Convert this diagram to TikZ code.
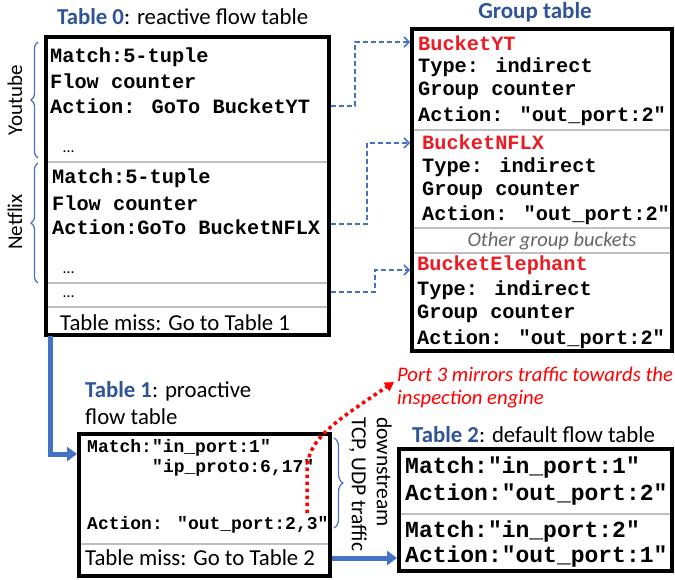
\documentclass[tikz,border=0pt]{standalone}
\usepackage{fontspec}
\setmainfont{Carlito}
\newfontfamily\cour{Liberation Mono}
\usetikzlibrary{arrows.meta,decorations.pathreplacing}
\definecolor{tblue}{RGB}{47,85,151}
\definecolor{ablue}{RGB}{68,114,196}
\definecolor{bred}{RGB}{237,28,36}
\definecolor{sepgray}{RGB}{191,191,191}
\begin{document}
\begin{tikzpicture}[x=1pt,y=1pt,
  tbox/.style={draw=black,line width=4pt,inner sep=0pt,anchor=north west,fill=white},
  sepline/.style={draw=sepgray,line width=1.5pt},
  monoA/.style={font=\cour\bfseries\fontsize{20.3}{24}\selectfont,inner sep=0pt,anchor=west},
  monoB/.style={font=\cour\bfseries\fontsize{18}{21}\selectfont,inner sep=0pt,anchor=west},
  monoC/.style={font=\cour\bfseries\fontsize{23}{27}\selectfont,inner sep=0pt,anchor=west},
  plain/.style={font=\fontsize{22.8}{27}\selectfont,inner sep=0pt,anchor=west},
  dots/.style={font=\fontsize{16}{18}\selectfont,inner sep=0pt,anchor=west},
  bname/.style={monoA,text=bred},
  dasharrow/.style={draw=ablue,line width=1.5pt,dash pattern=on 5pt off 3pt,-{Straight Barb[length=5pt,width=10pt]}},
  bigarrow/.style={draw=ablue,line width=5pt,-{Triangle[length=10pt,width=14pt]}},
  bracebl/.style={draw=ablue,line width=1.2pt,decorate,decoration={brace,amplitude=7pt}},
  reddot/.style={draw=red,line width=3.5pt,dash pattern=on 3.5pt off 3.5pt,-{Triangle[length=9pt,width=10pt]}}
]
\useasboundingbox (0,0) rectangle (675,-580);

% ---------- Table 0 ----------
\node[plain] (t0title) at (57,-17) {\textcolor{tblue}{\bfseries Table 0}: reactive flow table};
\node[tbox,minimum width=283pt,minimum height=298pt] (t0) at (44,-35) {};
\draw[sepline] (48,-162) -- (327,-162);
\draw[sepline] (48,-283) -- (327,-283);
\draw[sepline] (48,-307) -- (327,-307);
\node[monoA] (yt1) at (50,-57) {Match:5-tuple};
\node[monoA] (yt2) at (50,-81) {Flow counter};
\node[monoA] (yt3) at (50,-106) {Action: GoTo BucketYT};
\node[dots] (ytd) at (63,-152) {…};
\node[monoA] (nf1) at (52,-178) {Match:5-tuple};
\node[monoA] (nf2) at (52,-203) {Flow counter};
\node[monoA] (nf3) at (52,-227) {Action:GoTo BucketNFLX};
\node[dots] (nfd) at (63,-273) {…};
\node[dots] (od) at (63,-297) {…};
\node[plain] (miss0) at (60,-323) {Table miss: Go to Table 1};

% braces
\coordinate (ytb) at (38,-158); \coordinate (ytt) at (38,-42);
\coordinate (nfb) at (38,-283); \coordinate (nft) at (38,-163);
\draw[bracebl] (ytb) -- (ytt);
\draw[bracebl] (nfb) -- (nft);
\node[rotate=90,font=\fontsize{21}{24}\selectfont,inner sep=0pt] (ytl) at (15,-100) {Youtube};
\node[rotate=90,font=\fontsize{21}{24}\selectfont,inner sep=0pt] (nfl) at (15,-222) {Netflix};

% ---------- Group table ----------
\node[font=\fontsize{23}{27}\selectfont\bfseries,text=tblue,inner sep=0pt] (gtitle) at (535,-12) {Group table};
\node[tbox,minimum width=260pt,minimum height=322pt] (gt) at (410,-27) {};
\draw[sepline] (414,-130) -- (670,-130);
\draw[sepline] (414,-228) -- (670,-228);
\draw[sepline] (414,-253) -- (670,-253);
\node[bname] (b1n) at (418,-43) {BucketYT};
\node[monoA] (b1t) at (418,-67) {Type: indirect};
\node[monoA] (b1g) at (418,-91) {Group counter};
\node[monoA] (b1a) at (418,-116) {Action: "out\_port:2"};
\node[bname] (b2n) at (422,-142) {BucketNFLX};
\node[monoA] (b2t) at (422,-167) {Type: indirect};
\node[monoA] (b2g) at (422,-191) {Group counter};
\node[monoA] (b2a) at (422,-215) {Action: "out\_port:2"};
\node[font=\itshape\fontsize{20.5}{24}\selectfont,text=black!60,inner sep=0pt] (other) at (552,-241) {Other group buckets};
\node[bname] (b3n) at (417,-265) {BucketElephant};
\node[monoA] (b3t) at (417,-290) {Type: indirect};
\node[monoA] (b3g) at (417,-314) {Group counter};
\node[monoA] (b3a) at (417,-339) {Action: "out\_port:2"};

% dashed connectors
\coordinate (y1) at (0,-106); \coordinate (k1) at (355,-42);
\coordinate (y2) at (0,-224); \coordinate (k2) at (367,-143);
\coordinate (y3) at (0,-292); \coordinate (k3) at (375,-270);
\draw[dasharrow] (t0.east |- y1) -| (k1) -- (gt.west |- k1);
\draw[dasharrow] (t0.east |- y2) -| (k2) -- (gt.west |- k2);
\draw[dasharrow] (t0.east |- y3) -| (k3) -- (gt.west |- k3);

% ---------- Table 1 ----------
\node[plain,anchor=base west,align=left,font=\fontsize{22.8}{27}\selectfont] (t1title) at (85,-424) {\textcolor{tblue}{\bfseries Table 1}: proactive\\flow table};
\node[tbox,minimum width=251pt,minimum height=142pt] (t1) at (77,-432) {};
\draw[sepline] (81,-544) -- (328,-544);
\node[monoB] (m1) at (87,-448) {Match:"in\_port:1"};
\node[monoB] (m2) at (152,-468) {"ip\_proto:6,17"};
\node[monoB] (a1) at (87,-525) {Action: "out\_port:2,3"};
\node[plain] (miss1) at (85,-558) {Table miss: Go to Table 2};

\coordinate (c0) at (50,-336);
\coordinate (c1) at (0,-454);
\draw[bigarrow] (c0) |- (t1.west |- c1);

% brace and label
\coordinate (tbt) at (334,-438); \coordinate (tbb) at (334,-528);
\draw[bracebl,decoration={brace,amplitude=9pt}] (tbt) -- (tbb);
\node[rotate=-90,align=left,anchor=north west,inner sep=0pt,font=\fontsize{21.5}{25}\selectfont] (ds) at (392,-417) {downstream\\TCP, UDP traffic};

% red note
\node[anchor=base west,align=left,inner sep=0pt,text=red,font=\itshape\fontsize{20.7}{23}\selectfont] (port3) at (397,-404) {Port 3 mirrors traffic towards the\\inspection engine};
\coordinate (ps) at (307,-513);
\coordinate (pm) at (307,-472);
\coordinate (pe) at (394,-382);
\draw[reddot] (ps) -- (pm) .. controls (307,-440) and (330,-425) .. (pe);

% ---------- Table 2 ----------
\node[plain] (t2title) at (412,-435) {\textcolor{tblue}{\bfseries Table 2}: default flow table};
\node[tbox,minimum width=273pt,minimum height=122pt] (t2) at (397,-447) {};
\draw[sepline] (401,-514) -- (670,-514);
\node[monoC] (r1) at (405,-468) {Match:"in\_port:1"};
\node[monoC] (r2) at (405,-495) {Action:"out\_port:2"};
\node[monoC] (r3) at (405,-532) {Match:"in\_port:2"};
\node[monoC] (r4) at (405,-557) {Action:"out\_port:1"};

\draw[bigarrow] (t1.east |- miss1) -- (t2.west |- miss1);
\end{tikzpicture}
\end{document}
